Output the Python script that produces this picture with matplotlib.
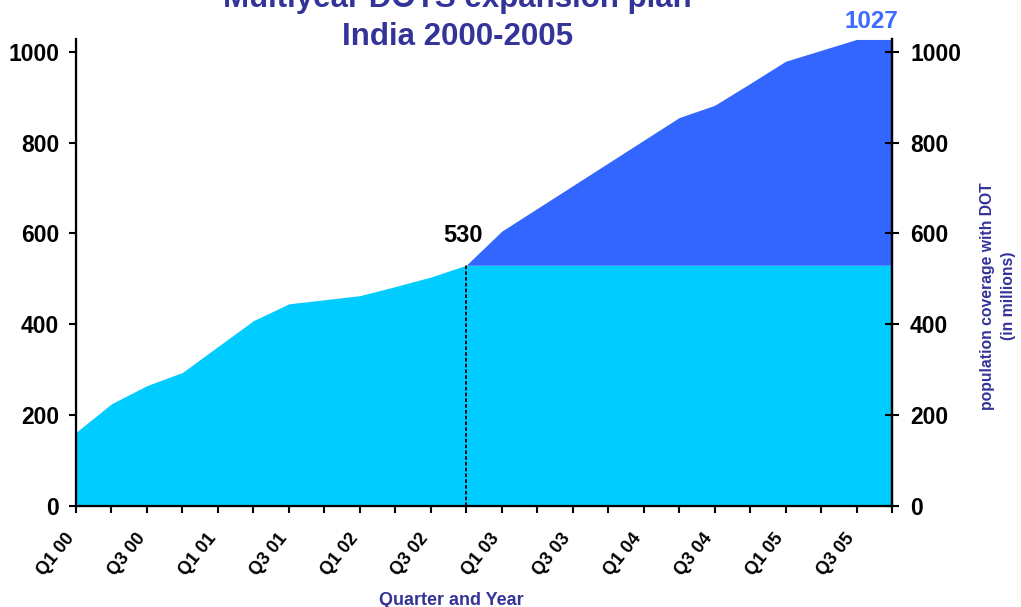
import matplotlib
matplotlib.use("Agg")
import matplotlib.pyplot as plt
import matplotlib.transforms as mtransforms
import numpy as np

quarters = ["Q1 00", "Q2 00", "Q3 00", "Q4 00",
            "Q1 01", "Q2 01", "Q3 01", "Q4 01",
            "Q1 02", "Q2 02", "Q3 02", "Q4 02",
            "Q1 03", "Q2 03", "Q3 03", "Q4 03",
            "Q1 04", "Q2 04", "Q3 04", "Q4 04",
            "Q1 05", "Q2 05", "Q3 05", "Q4 05"]
coverage = [162, 225, 265, 294,
            351, 408, 445, 454,
            463, 483, 504, 530,
            605, 655, 705, 755,
            805, 855, 882, 930,
            979, 1003, 1027, 1027]
baseline_value = 530
baseline_quarter = "Q4 02"
final_value = 1027
yticks = [0, 200, 400, 600, 800, 1000]

plt.rcParams['font.family'] = ['Liberation Sans', 'DejaVu Sans']
plt.rcParams['font.weight'] = 'bold'

LIGHT = '#00CCFF'
DARK = '#3366FF'
NAVY = '#333399'

fig = plt.figure(figsize=(10.21, 6.07), dpi=100)
W, H = 1021, 607
ax = fig.add_axes([76 / W, 1 - 506 / H, (892 - 76) / W, (506 - 39) / H])

x = np.arange(len(quarters))
y = np.array(coverage, dtype=float)
bi = quarters.index(baseline_quarter)

ax.fill_between(x, 0, np.minimum(y, baseline_value), color=LIGHT, lw=0)
ax.fill_between(x[bi:], baseline_value, y[bi:], color=DARK, lw=0)
ax.plot([x[bi], x[bi]], [0, baseline_value], color='black', lw=1.3,
        linestyle=(0, (2, 1.2)))

ax.set_xlim(0, len(quarters) - 1)
ax.set_ylim(0, 1028)

ax.set_xticks(x)
ax.set_xticklabels([])
lbl_tr = ax.get_xaxis_transform() + mtransforms.ScaledTranslation(
    -5 / 100, -29 / 100, fig.dpi_scale_trans)
for i, q in enumerate(quarters):
    if i % 2 == 0:
        ax.text(x[i], 0, q, transform=lbl_tr, rotation=51, ha='right',
                va='center', rotation_mode='anchor', fontsize=13,
                fontweight='bold', color='black')
ax.set_yticks(yticks)
ax.set_yticklabels([str(v) for v in yticks], fontsize=16.5, fontweight='bold')
ax.tick_params(axis='x', direction='out', length=5, width=1.5)
ax.tick_params(axis='y', direction='out', length=5, width=1.5, pad=7)

ax.spines['top'].set_visible(False)
for s in ['left', 'bottom', 'right']:
    ax.spines[s].set_linewidth(1.6)

ax2 = ax.twinx()
ax2.set_ylim(ax.get_ylim())
ax2.set_yticks(yticks)
ax2.set_yticklabels([str(v) for v in yticks], fontsize=16.5, fontweight='bold')
ax2.tick_params(axis='y', direction='inout', length=10, width=1.5, pad=8)
ax2.spines['top'].set_visible(False)
ax2.spines['right'].set_linewidth(1.6)

ax.text(10.9, 582, str(baseline_value), ha='center', va='baseline',
        fontsize=17, fontweight='bold', color='black')
ax.text(22.43, 1053, str(final_value), ha='center', va='baseline',
        fontsize=17.5, fontweight='bold', color='#3d6bff', clip_on=False)

fig.text(457.5 / W, 1 - 7 / H, "Multiyear DOTS expansion plan", ha='center',
         va='baseline', fontsize=22.5, fontweight='bold', color=NAVY)
fig.text(457.5 / W, 1 - 45 / H, "India 2000-2005", ha='center',
         va='baseline', fontsize=22.5, fontweight='bold', color=NAVY)

fig.text(451.5 / W, 1 - 605 / H, "Quarter and Year", ha='center',
         va='baseline', fontsize=13, fontweight='bold', color=NAVY)
fig.text(998 / W, 1 - 296 / H, "population coverage with DOT\n(in millions)",
         ha='center', va='center', rotation=90, multialignment='center',
         fontsize=11.3, fontweight='bold', color=NAVY, linespacing=1.5)

fig.savefig('out.png', dpi=100)
